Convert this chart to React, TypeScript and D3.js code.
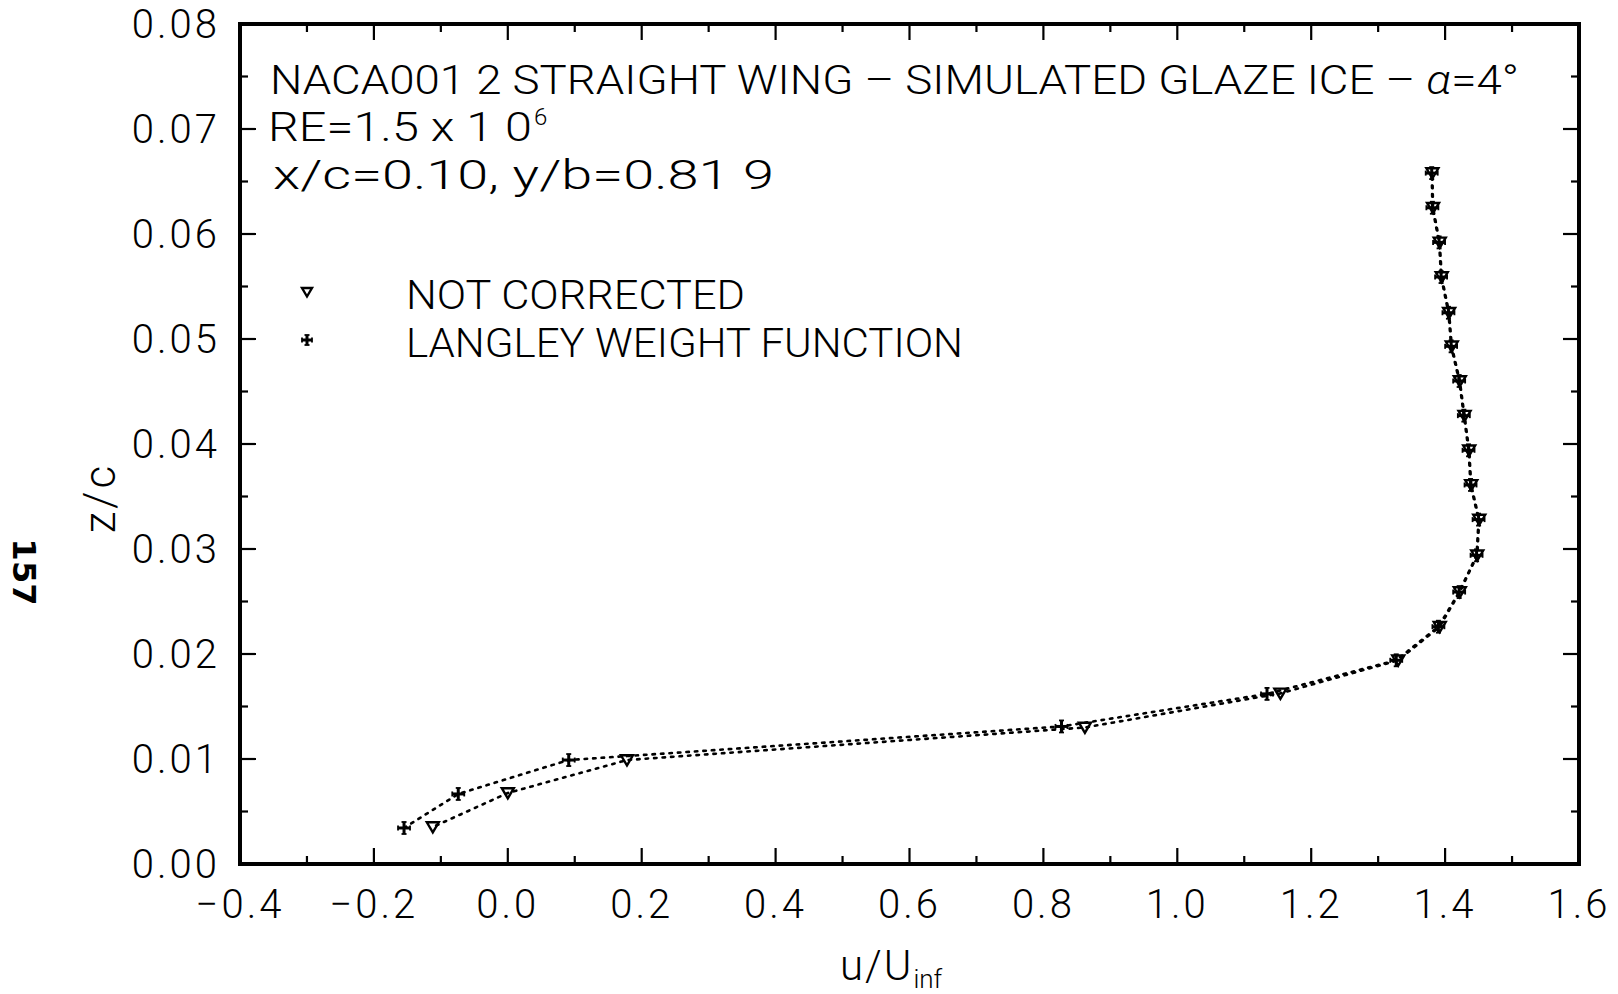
import React from 'react';
import * as d3 from 'd3';

// velocity profile
const zLangley = [0.00343, 0.00667, 0.0099, 0.0131, 0.0162, 0.0194, 0.0226, 0.0259, 0.0294, 0.0328, 0.0361, 0.0394, 0.0427, 0.046, 0.0493, 0.0525, 0.0559, 0.0592, 0.0625, 0.0658];
const uLangley = [-0.155, -0.074, 0.091, 0.827, 1.134, 1.327, 1.39, 1.421, 1.447, 1.45, 1.438, 1.435, 1.428, 1.421, 1.409, 1.405, 1.394, 1.391, 1.381, 1.38];

const zNotCorrected = [0.00352, 0.00676, 0.0099, 0.013, 0.01625, 0.0194, 0.0226, 0.0259, 0.0294, 0.0328, 0.0361, 0.0394, 0.0427, 0.046, 0.0493, 0.0525, 0.0559, 0.0592, 0.0625, 0.0658];
const uNotCorrected = [-0.112, 0.0, 0.178, 0.862, 1.154, 1.33, 1.392, 1.422, 1.448, 1.451, 1.439, 1.436, 1.429, 1.422, 1.41, 1.406, 1.395, 1.392, 1.382, 1.381];

const xDomain = [-0.4, 1.6];
const yDomain = [0, 0.08];

const legendLabels = ['NOT CORRECTED', 'LANGLEY WEIGHT FUNCTION'];

const W = 1618, H = 994;
const L = 240, R = 1579, T = 24, B = 864;
const FONT = 'Roboto, "DejaVu Sans", sans-serif';
const DASH = 8.5;

function Tri({ x, y, s = 6 }) {
  return <path d={`M${x - s},${y - s * 0.8} L${x + s},${y - s * 0.8} L${x},${y + s * 0.9} Z`} fill="none" stroke="#000" strokeWidth={2.4} />;
}

function Plus({ x, y, s = 6 }) {
  return (
    <g stroke="#000" strokeWidth={3}>
      <line x1={x - s} y1={y} x2={x + s} y2={y} />
      <line x1={x} y1={y - s} x2={x} y2={y + s} />
      <line x1={x - s} y1={y - 2.5} x2={x - s} y2={y + 2.5} strokeWidth={1.8} />
      <line x1={x + s} y1={y - 2.5} x2={x + s} y2={y + 2.5} strokeWidth={1.8} />
      <line x1={x - 2.5} y1={y - s} x2={x + 2.5} y2={y - s} strokeWidth={1.8} />
      <line x1={x - 2.5} y1={y + s} x2={x + 2.5} y2={y + s} strokeWidth={1.8} />
    </g>
  );
}

// path length up to point k, in pixels
function lenTo(pts, k) {
  let s = 0;
  for (let i = 1; i <= k; i++) s += Math.hypot(pts[i][0] - pts[i - 1][0], pts[i][1] - pts[i - 1][1]);
  return s;
}

export default function App() {
  const x = d3.scaleLinear().domain(xDomain).range([L, R]);
  const y = d3.scaleLinear().domain(yDomain).range([B, T]);

  const xMajor = x.ticks(10);
  const xMinor = x.ticks(20);
  const yMajor = y.ticks(8);
  const yMinor = y.ticks(16);
  const isMajor = (v, arr) => arr.some((m) => Math.abs(m - v) < 1e-9);

  const line = d3.line().x((d) => x(d[0])).y((d) => y(d[1]));
  const langley = uLangley.map((u, i) => [u, zLangley[i]]);
  const notCorr = uNotCorrected.map((u, i) => [u, zNotCorrected[i]]);

  // line the dots of both curves up where they run together (from point 5 on)
  const px = (pts) => pts.map((d) => [x(d[0]), y(d[1])]);
  const shift = ((lenTo(px(notCorr), 5) - lenTo(px(langley), 5)) % DASH + DASH) % DASH;

  const fx = d3.format('.1f');
  const fy = d3.format('.2f');

  return (
    <svg width={W} height={H} style={{ position: 'absolute', left: 0, top: 0, background: '#fff' }} fontFamily={FONT} fontWeight={300}>
      <rect x={0} y={0} width={W} height={H} fill="#fff" />

      {/* ticks, all four sides, pointing inward */}
      <g stroke="#000" strokeWidth={2.2}>
        {xMinor.map((v) => {
          const len = isMajor(v, xMajor) ? 16 : 8;
          return (
            <g key={'xt' + v}>
              <line x1={x(v)} x2={x(v)} y1={B} y2={B - len} />
              <line x1={x(v)} x2={x(v)} y1={T} y2={T + len} />
            </g>
          );
        })}
        {yMinor.map((v) => {
          const len = isMajor(v, yMajor) ? 16 : 8;
          return (
            <g key={'yt' + v}>
              <line x1={L} x2={L + len} y1={y(v)} y2={y(v)} />
              <line x1={R} x2={R - len} y1={y(v)} y2={y(v)} />
            </g>
          );
        })}
      </g>
      <rect x={L} y={T} width={R - L} height={B - T} fill="none" stroke="#000" strokeWidth={4} />

      {/* tick labels */}
      <g fontSize={40} fill="#000" letterSpacing={3}>
        {xMajor.map((v) => (
          <text key={'xl' + v} x={x(v)} y={918} textAnchor="middle">{fx(v)}</text>
        ))}
        {yMajor.map((v) => (
          <text key={'yl' + v} x={220} y={y(v)} dy="0.36em" textAnchor="end">{fy(v)}</text>
        ))}
      </g>

      {/* axis titles */}
      <text x={840} y={980} fontSize={42} letterSpacing={2}>
        u/U<tspan fontSize={26} dy={8} letterSpacing={0}>inf</tspan>
      </text>
      <text transform="translate(115,498) rotate(-90)" textAnchor="middle" fontSize={44} letterSpacing={3}>z/c</text>

      {/* page number */}
      <text transform="translate(13,572) rotate(90)" textAnchor="middle" fontSize={32} fontWeight={700} fontFamily='"DejaVu Sans", sans-serif'>157</text>

      {/* header text */}
      <g fontSize={40} fill="#000">
        <text x={270} y={94} textLength={1249} lengthAdjust="spacingAndGlyphs">
          NACA001 2 STRAIGHT WING – SIMULATED GLAZE ICE – <tspan fontStyle="italic">α</tspan>=4°
        </text>
        <text x={268} y={141} textLength={264} lengthAdjust="spacingAndGlyphs">RE=1.5 x 1 0</text>
        <text x={534} y={125} fontSize={24}>6</text>
        <text x={273} y={189} textLength={501} lengthAdjust="spacingAndGlyphs">x/c=0.10, y/b=0.81 9</text>
      </g>

      {/* legend */}
      <Tri x={307} y={292} s={5} />
      <Plus x={307} y={340} s={5} />
      <g fontSize={40}>
        <text x={406} y={309} textLength={339} lengthAdjust="spacingAndGlyphs">{legendLabels[0]}</text>
        <text x={406} y={357} textLength={557} lengthAdjust="spacingAndGlyphs">{legendLabels[1]}</text>
      </g>

      {/* data */}
      <path d={line(notCorr)} fill="none" stroke="#000" strokeWidth={2.6} strokeDasharray={`2.5 ${DASH - 2.5}`} strokeDashoffset={shift} strokeLinecap="round" />
      <path d={line(langley)} fill="none" stroke="#000" strokeWidth={2.6} strokeDasharray={`2.5 ${DASH - 2.5}`} strokeLinecap="round" />
      {notCorr.map((d, i) => <Tri key={'n' + i} x={x(d[0])} y={y(d[1])} />)}
      {langley.map((d, i) => <Plus key={'l' + i} x={x(d[0])} y={y(d[1])} />)}
    </svg>
  );
}
